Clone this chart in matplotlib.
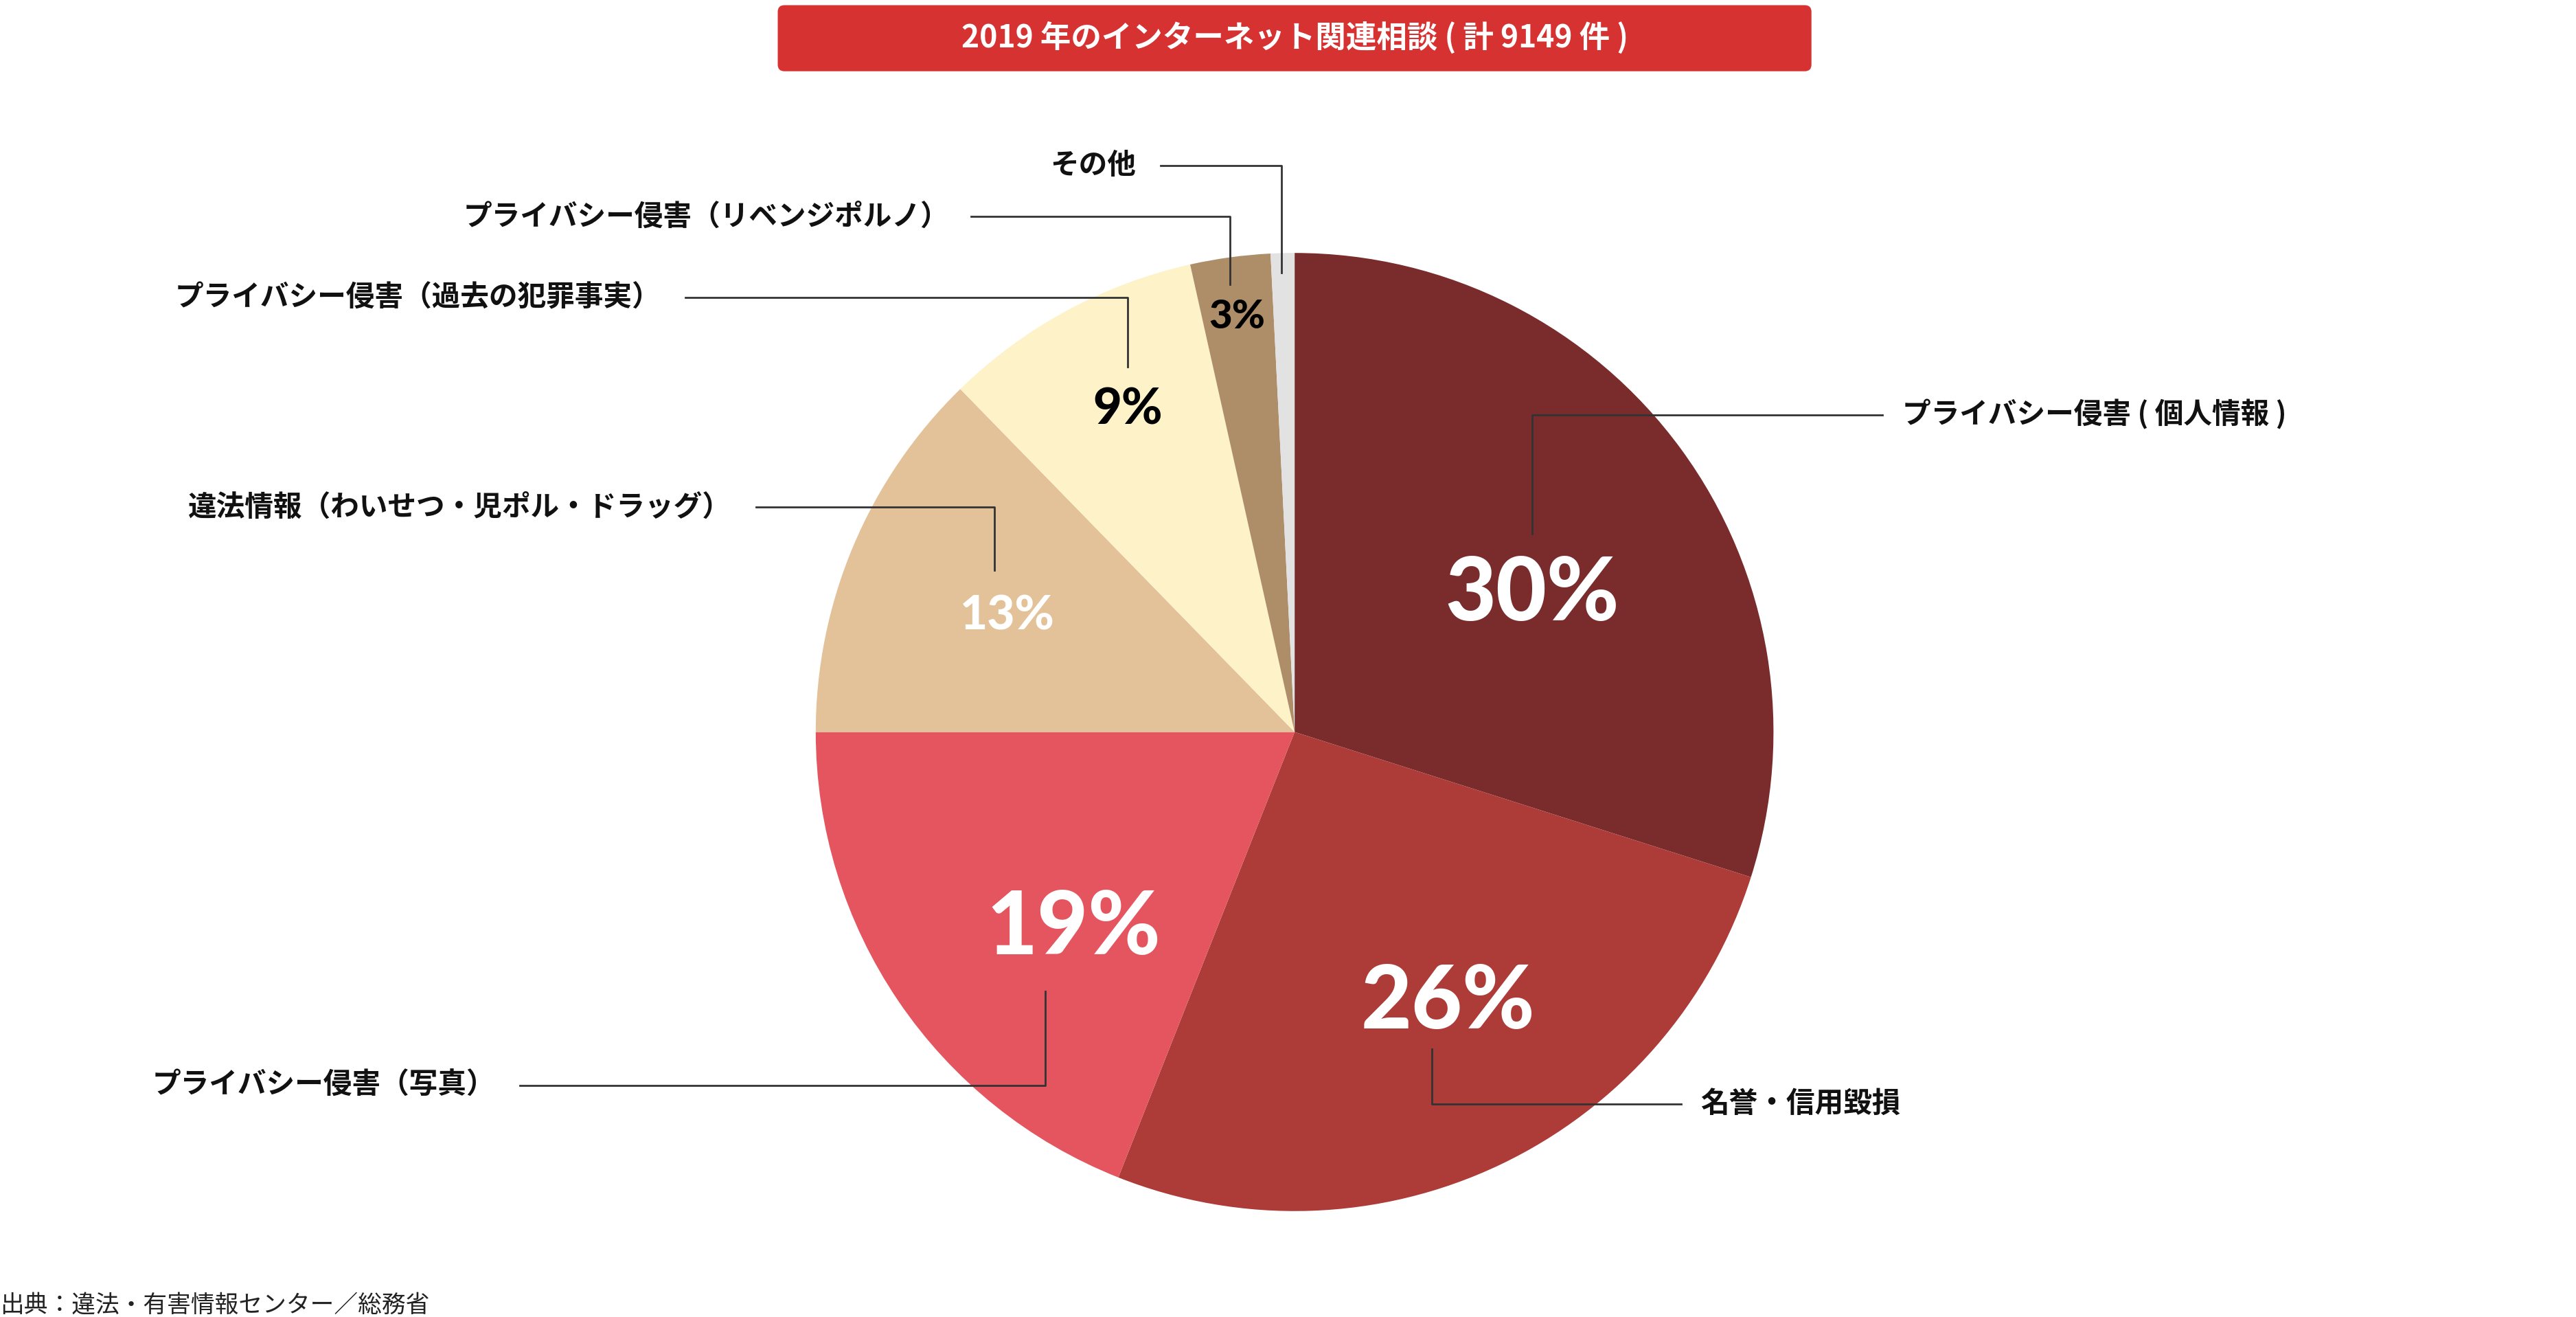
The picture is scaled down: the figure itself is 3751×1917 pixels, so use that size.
import matplotlib
matplotlib.use("Agg")
import matplotlib.pyplot as plt
from matplotlib.patches import FancyBboxPatch

plt.rcParams['font.family'] = ['Noto Sans CJK JP', 'DejaVu Sans']

title = "2019 年のインターネット関連相談 ( 計 9149 件 )"
source = "出典：違法・有害情報センター／総務省"
categories = ["プライバシー侵害 ( 個人情報 )", "名誉・信用毀損", "プライバシー侵害（写真）",
              "違法情報（わいせつ・児ポル・ドラッグ）", "プライバシー侵害（過去の犯罪事実）",
              "プライバシー侵害（リベンジポルノ）", "その他"]
values = [29.9, 26.1, 19.0, 12.7, 8.8, 2.7, 0.8]
pct_labels = ["30%", "26%", "19%", "13%", "9%", "3%", ""]
colors = ["#7a2c2c", "#ad3b38", "#e55560", "#e3c299", "#fef2c8", "#ae8d69", "#e2e2e2"]

W, H = 1560, 797
fig = plt.figure(figsize=(37.51, 19.17), dpi=100)
ax = fig.add_axes([0, 0, 1, 1])
ax.set_xlim(0, W); ax.set_ylim(0, H); ax.set_aspect('equal'); ax.axis('off')
Y = lambda y: H - y

cx, cy, r = 784, Y(443), 290
ax.pie(values, colors=colors, startangle=90, counterclock=False, center=(cx, cy),
       radius=r, wedgeprops=dict(linewidth=0), frame=True)
ax.set_xlim(0, W); ax.set_ylim(0, H); ax.axis('off')

# percentage labels
pct_pos = [(928, 360, 92, 'white'), (877, 607, 92, 'white'), (650, 562, 92, 'white'),
           (610, 373, 50, 'white'), (683, 248, 52, 'black'), (749, 192, 42, 'black')]
for lab, (x, y, fs, c) in zip(pct_labels, pct_pos):
    ax.text(x, Y(y), lab, ha='center', va='center', fontsize=fs, color=c,
            fontweight='black', family=['Lato', 'DejaVu Sans'])

lc = dict(color='#333333', lw=2)
# leader lines and category labels
specs = [
    # (text x, text y, ha, line polyline)
    (1152, 251, 'left', [(1140, 251), (928, 251), (928, 323)]),
    (1030, 668, 'left', [(1018, 668), (867, 668), (867, 635)]),
    (300, 657, 'right', [(315, 657), (633, 657), (633, 600)]),
    (443, 307, 'right', [(458, 307), (602, 307), (602, 345)]),
    (400, 180, 'right', [(415, 180), (683, 180), (683, 222)]),
    (575, 131, 'right', [(588, 131), (745, 131), (745, 172)]),
    (688, 100, 'right', [(703, 100), (776, 100), (776, 165)]),
]
for cat, (tx, ty, ha, pts) in zip(categories, specs):
    ax.text(tx, Y(ty), cat, ha=ha, va='center', fontsize=30, fontweight='bold', color='#111111')
    ax.plot([p[0] for p in pts], [Y(p[1]) for p in pts], **lc)

# title box
box = FancyBboxPatch((471, Y(43)), 626, 40, boxstyle="round,pad=0,rounding_size=4",
                     fc="#d63232", ec="none")
ax.add_patch(box)
ax.text(784, Y(23), title, ha='center', va='center', fontsize=32, color='white', fontweight='bold')

ax.text(0, Y(790), source, ha='left', va='center', fontsize=25, color='#222222')

fig.savefig("out.png", dpi=100, facecolor='white')
